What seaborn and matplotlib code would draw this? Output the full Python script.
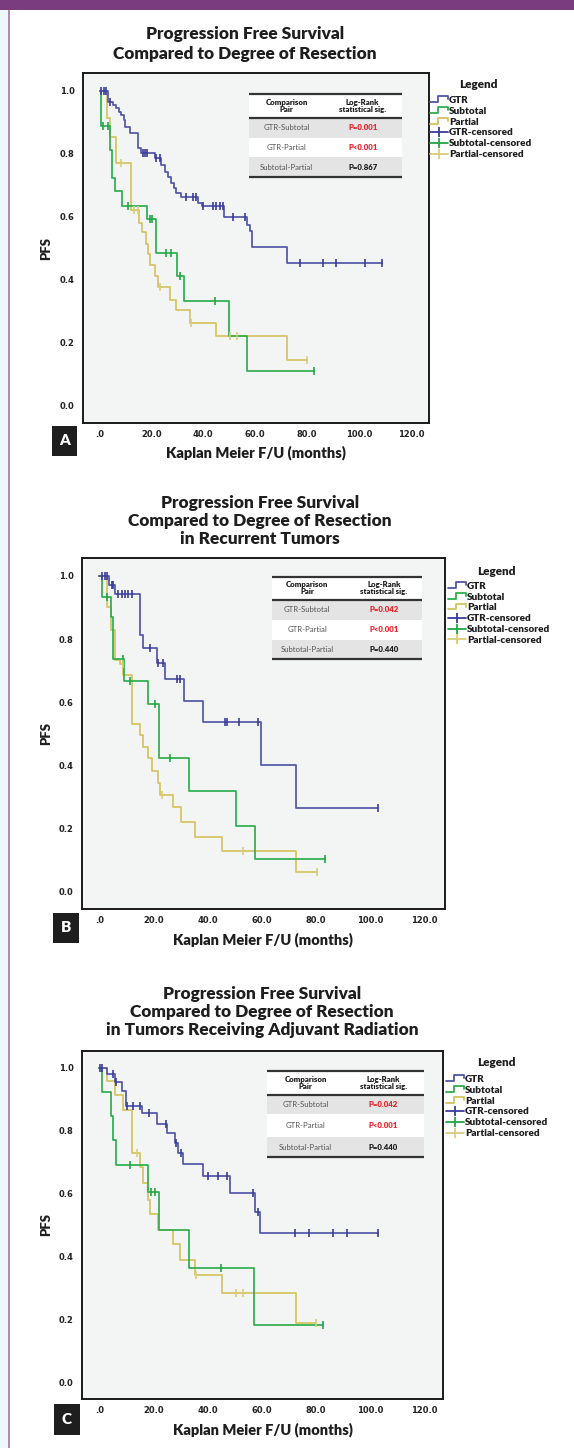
import numpy as np
import matplotlib
matplotlib.use("Agg")
import matplotlib.pyplot as plt
import seaborn as sns
from matplotlib import font_manager
from matplotlib.lines import Line2D
from matplotlib.patches import Rectangle
from matplotlib.legend_handler import HandlerBase

# ---------------- DATA ----------------
titles_A = ["Progression Free Survival", "Compared to Degree of Resection"]
titles_B = ["Progression Free Survival", "Compared to Degree of Resection", "in Recurrent Tumors"]
titles_C = ["Progression Free Survival", "Compared to Degree of Resection",
            "in Tumors Receiving Adjuvant Radiation"]
panel_letters = ["A", "B", "C"]
x_ticks = [0, 20, 40, 60, 80, 100, 120]
x_tick_labels = [".0", "20.0", "40.0", "60.0", "80.0", "100.0", "120.0"]
y_ticks = [0.0, 0.2, 0.4, 0.6, 0.8, 1.0]
y_tick_labels = ["0.0", "0.2", "0.4", "0.6", "0.8", "1.0"]
x_label = "Kaplan Meier F/U (months)"
y_label = "PFS"
series_names = ["GTR", "Subtotal", "Partial"]
legend_labels = ["GTR", "Subtotal", "Partial", "GTR-censored", "Subtotal-censored", "Partial-censored"]
table_header = ["Comparison\nPair", "Log-Rank\nstatistical sig."]
table_pairs = ["GTR-Subtotal", "GTR-Partial", "Subtotal-Partial"]
pvals_A = ["P=0.001", "P<0.001", "P=0.867"]
pvals_B = ["P=0.042", "P<0.001", "P=0.440"]
pvals_C = ["P=0.042", "P<0.001", "P=0.440"]
significant_A = [True, True, False]
significant_B = [True, True, False]
significant_C = [True, True, False]

# Panel A
A_gtr_t = [3.2, 5.1, 6.4, 7.5, 8.4, 9.4, 10.0, 11.6, 14.8, 16.1, 21.2, 23.8, 25.1, 26.4, 27.7,
           28.6, 29.6, 31.5, 38.0, 39.6, 47.9, 56.9, 57.9, 58.9, 72.1]
A_gtr_s = [0.965, 0.955, 0.944, 0.933, 0.923, 0.907, 0.884, 0.865, 0.817, 0.801, 0.785, 0.764,
           0.743, 0.727, 0.706, 0.690, 0.674, 0.662, 0.643, 0.634, 0.600, 0.574, 0.553, 0.505, 0.452]
A_gtr_c = [0.6, 1.9, 2.6, 3.9, 16.7, 17.4, 18.3, 21.9, 23.2, 33.5, 36.0, 37.3, 39.9, 43.8, 45.0,
           46.3, 47.6, 51.5, 56.0, 77.2, 86.2, 91.1, 102.3, 108.8]
A_sub_t = [0.6, 3.9, 4.9, 6.0, 8.6, 18.3, 21.9, 29.9, 32.6, 49.9, 56.9]
A_sub_s = [0.888, 0.812, 0.722, 0.680, 0.634, 0.592, 0.484, 0.412, 0.331, 0.220, 0.109]
A_sub_c = [1.3, 3.2, 10.9, 19.3, 20.3, 25.7, 27.4, 30.9, 44.4, 82.6]
A_par_t = [3.0, 4.1, 6.2, 12.0, 15.4, 16.5, 17.8, 18.7, 19.6, 21.2, 22.5, 27.0, 29.6, 34.7, 44.8, 72.1]
A_par_s = [0.912, 0.854, 0.770, 0.622, 0.580, 0.550, 0.512, 0.480, 0.445, 0.412, 0.375, 0.336,
           0.304, 0.262, 0.220, 0.146]
A_par_c = [8.4, 13.1, 14.8, 23.2, 35.4, 50.2, 52.8, 79.8]

# Panel B
B_gtr_t = [3.7, 5.8, 15.0, 16.0, 21.2, 24.3, 31.3, 38.4, 59.6, 72.6]
B_gtr_s = [0.971, 0.942, 0.813, 0.771, 0.723, 0.673, 0.605, 0.536, 0.401, 0.264]
B_gtr_c = [0.9, 2.1, 2.7, 4.6, 5.2, 7.0, 8.3, 9.5, 10.7, 12.0, 18.7, 21.8, 23.6, 28.6, 29.6,
           46.4, 47.3, 51.7, 58.7, 103.0]
B_sub_t = [0.9, 4.2, 4.9, 9.1, 18.1, 22.2, 33.2, 50.5, 57.5]
B_sub_s = [0.935, 0.869, 0.736, 0.668, 0.594, 0.422, 0.319, 0.209, 0.103]
B_sub_c = [2.7, 8.9, 11.3, 20.6, 26.1, 83.3]
B_par_t = [2.7, 4.2, 5.8, 7.6, 8.9, 12.0, 15.0, 16.0, 18.1, 19.3, 21.8, 22.4, 27.3, 30.0, 35.3, 45.4, 72.6]
B_par_s = [0.903, 0.829, 0.735, 0.722, 0.685, 0.532, 0.496, 0.458, 0.422, 0.382, 0.345, 0.305,
           0.267, 0.220, 0.174, 0.128, 0.063]
B_par_c = [8.6, 23.0, 53.2, 80.3]

# Panel C
C_gtr_t = [2.7, 5.8, 8.3, 9.9, 15.6, 21.2, 24.9, 27.9, 29.2, 31.0, 38.2, 48.3, 57.5, 59.3]
C_gtr_s = [0.980, 0.955, 0.927, 0.878, 0.855, 0.821, 0.791, 0.760, 0.728, 0.693, 0.657, 0.601,
           0.542, 0.474]
C_gtr_c = [0.3, 0.9, 4.9, 6.2, 10.1, 12.6, 15.1, 18.5, 24.6, 28.3, 30.0, 40.3, 43.9, 47.0, 56.6,
           58.7, 72.3, 77.5, 86.4, 91.3, 103.0]
C_sub_t = [0.9, 4.2, 5.2, 6.2, 18.1, 22.1, 33.2, 57.1]
C_sub_s = [0.924, 0.846, 0.770, 0.691, 0.606, 0.484, 0.362, 0.182]
C_sub_c = [11.3, 19.0, 20.6, 44.8, 82.7]
C_par_t = [3.0, 5.8, 8.9, 12.0, 15.0, 16.3, 18.1, 18.7, 21.8, 27.1, 29.8, 35.3, 45.2, 72.6]
C_par_s = [0.959, 0.913, 0.865, 0.728, 0.685, 0.632, 0.579, 0.535, 0.484, 0.440, 0.389, 0.341,
           0.283, 0.190]
C_par_c = [13.8, 35.7, 50.5, 52.9, 80.0]

# ---------------- STYLE ----------------
sns.set_style("white")
names = {f.name for f in font_manager.fontManager.ttflist}
FONT = "DejaVu Sans"
for cand in ["Lato", "Open Sans", "Roboto", "Liberation Sans"]:
    if cand in names:
        FONT = cand
        break
plt.rcParams["font.family"] = [FONT, "DejaVu Sans"]

W, H = 574, 1448
fig = plt.figure(figsize=(W / 100, H / 100), dpi=100)
fig.patch.set_facecolor("white")

line_colors = ["#5156a6", "#2fae4e", "#d5c35f"]
cens_colors = ["#3a3d9c", "#22a645", "#d9cd7a"]
PURPLE = "#7b3c7e"
TXT = "#1e1e1e"


def fig_rect(x0, y0, x1, y1, **kw):
    fig.add_artist(Rectangle((x0 / W, 1 - y1 / H), (x1 - x0) / W, (y1 - y0) / H,
                             transform=fig.transFigure, **kw))


# page decoration
fig_rect(0, 0, 8, H, facecolor="#eef7fa", edgecolor="none", zorder=0)
fig_rect(8, 0, 10, H, facecolor="#b18ab9", edgecolor="none", zorder=0)
fig_rect(0, 0, W, 9.5, facecolor=PURPLE, edgecolor="none", zorder=1)


class StepHandler(HandlerBase):
    def create_artists(self, legend, orig_handle, xdescent, ydescent, width, height, fontsize, trans):
        xs = np.array([0.0, 0.42, 0.42, 1.0, 1.0]) * width - xdescent
        ys = np.array([0.15, 0.15, 0.95, 0.95, 0.55]) * height - ydescent
        ln = Line2D(xs, ys, color=orig_handle.get_color(), lw=orig_handle.get_linewidth())
        ln.set_transform(trans)
        return [ln]


panels = [
    dict(title=titles_A, curves=[(A_gtr_t, A_gtr_s, A_gtr_c), (A_sub_t, A_sub_s, A_sub_c), (A_par_t, A_par_s, A_par_c)],
         pvals=pvals_A, sig=significant_A,
         ax=(82.5, 428.5, 73.3, 423.3), xlim=(-6.55, 126.7), ylim=(-0.0565, 1.0553),
         title_x=245, title_y=[33.5, 54.0],
         table=(249.3, 402.3, 94.0, 117.7, 138.3, 157.3, 177.3, 286.7, 362.7),
         leg=(430, 96.0), leg_title=(478, 85),
         letter=(52, 426, 77, 456), pfs_x=46, xlab_y=452.7),
    dict(title=titles_B, curves=[(B_gtr_t, B_gtr_s, B_gtr_c), (B_sub_t, B_sub_s, B_sub_c), (B_par_t, B_par_s, B_par_c)],
         pvals=pvals_B, sig=significant_B,
         ax=(81.7, 445.0, 558.3, 909.3), xlim=(-6.5, 127.6), ylim=(-0.0557, 1.056),
         title_x=260, title_y=[503.3, 520.7, 539.0],
         table=(272.0, 421.7, 576.7, 600.0, 620.0, 640.0, 658.7, 307.3, 384.0),
         leg=(448, 581.8), leg_title=(496.7, 571.7),
         letter=(53, 913, 79, 943), pfs_x=46, xlab_y=940.0),
    dict(title=titles_C, curves=[(C_gtr_t, C_gtr_s, C_gtr_c), (C_sub_t, C_sub_s, C_sub_c), (C_par_t, C_par_s, C_par_c)],
         pvals=pvals_C, sig=significant_C,
         ax=(81.7, 443.3, 1050.7, 1399.3), xlim=(-6.5, 127.0), ylim=(-0.054, 1.054),
         title_x=262, title_y=[993.5, 1011.5, 1029.5],
         table=(266.7, 424.0, 1070.7, 1095.3, 1114.3, 1137.3, 1157.3, 305.7, 383.3),
         leg=(446, 1075.0), leg_title=(496.7, 1062.3),
         letter=(54, 1404, 80, 1435), pfs_x=46, xlab_y=1430.0),
]

for pi, P in enumerate(panels):
    L, R, T, B = P["ax"]
    ax = fig.add_axes([L / W, 1 - B / H, (R - L) / W, (B - T) / H])
    ax.set_facecolor("#f3f4f4")
    for k, (t, s, c) in enumerate(P["curves"]):
        t = np.asarray(t, float)
        s = np.asarray(s, float)
        c = np.asarray(c, float)
        end = max(t[-1], c.max())
        xs = np.concatenate([[0.0], t, [end]])
        ys = np.concatenate([[1.0], s, [s[-1]]])
        sns.lineplot(x=xs, y=ys, drawstyle="steps-post", estimator=None, sort=False,
                     color=line_colors[k], lw=1.25, ax=ax, zorder=3 - k * 0.1)
        idx = np.searchsorted(t, c, side="right")
        cy = np.where(idx == 0, 1.0, s[np.maximum(idx - 1, 0)])
        sns.scatterplot(x=c, y=cy, marker="|", s=30, color=cens_colors[k], linewidth=1.2,
                        ax=ax, zorder=4)
    ax.set_xlim(*P["xlim"])
    ax.set_ylim(*P["ylim"])
    ax.set_xticks(x_ticks)
    ax.set_xticklabels(x_tick_labels)
    ax.set_yticks(y_ticks)
    ax.set_yticklabels(y_tick_labels)
    ax.tick_params(axis="both", direction="out", length=4.5, width=1.0, color="#222222",
                   pad=1.2, labelsize=6, labelcolor="#222222")
    ax.tick_params(axis="x", length=3.5)
    for lab in ax.get_xticklabels() + ax.get_yticklabels():
        lab.set_fontfamily("DejaVu Sans")
        lab.set_fontweight("bold")
    for sp in ax.spines.values():
        sp.set_visible(True)
        sp.set_color("#1a1a1a")
        sp.set_linewidth(1.4)
    ax.set_xlabel(x_label, fontsize=10.5, fontweight="heavy", color=TXT, family=[FONT, "DejaVu Sans"])
    ax.xaxis.set_label_coords(((L + R) / 2 + 0 - L) / (R - L), -(P["xlab_y"] - B) / (B - T))
    ax.xaxis.label.set_va("center")
    ax.set_ylabel(y_label, fontsize=9.5, fontweight="heavy", color=TXT, family=[FONT, "DejaVu Sans"])
    ax.yaxis.set_label_coords(-(L - P["pfs_x"]) / (R - L), 0.5)
    ax.yaxis.label.set_va("center")

    # titles
    for line, yy in zip(P["title"], P["title_y"]):
        fig.text(P["title_x"] / W, 1 - yy / H, line, ha="center", va="center",
                 fontsize=12.4, fontweight="heavy", color=TXT)

    # panel letter
    lx0, ly0, lx1, ly1 = P["letter"]
    fig_rect(lx0, ly0, lx1, ly1, facecolor="#1e1e1e", edgecolor="none", zorder=5)
    fig.text((lx0 + lx1) / 2 / W, 1 - (ly0 + ly1) / 2 / H, panel_letters[pi], ha="center",
             va="center", color="white", fontsize=11, fontweight="heavy", zorder=6)

    # table
    tl, tr, tt, th, t1, t2, tb, c1, c2 = P["table"]
    tax = fig.add_axes([tl / W, 1 - (tb + 2) / H, (tr - tl) / W, (tb - tt + 4) / H])
    tax.set_xlim(tl, tr)
    tax.set_ylim(tb + 2, tt - 2)
    tax.axis("off")
    tax.add_patch(Rectangle((tl, tt), tr - tl, th - tt, facecolor="white", edgecolor="none"))
    tax.add_patch(Rectangle((tl, th), tr - tl, t1 - th, facecolor="#e4e4e4", edgecolor="none"))
    tax.add_patch(Rectangle((tl, t1), tr - tl, t2 - t1, facecolor="white", edgecolor="none"))
    tax.add_patch(Rectangle((tl, t2), tr - tl, tb - t2, facecolor="#e4e4e4", edgecolor="none"))
    for yy in (tt, th, tb):
        tax.plot([tl, tr], [yy, yy], color="#333333", lw=1.6, solid_capstyle="butt")
    tax.text(c1, (tt + th) / 2, table_header[0], ha="center", va="center", fontsize=5.6,
             fontweight="heavy", color=TXT, linespacing=0.95)
    tax.text(c2, (tt + th) / 2, table_header[1], ha="center", va="center", fontsize=5.6,
             fontweight="heavy", color=TXT, linespacing=0.95)
    rows_y = [(th + t1) / 2, (t1 + t2) / 2, (t2 + tb) / 2]
    for r in range(3):
        tax.text(c1, rows_y[r], table_pairs[r], ha="center", va="center", fontsize=5.6,
                 color="#555555")
        tax.text(c2, rows_y[r], P["pvals"][r], ha="center", va="center", fontsize=5.6,
                 fontweight="heavy", color="#ee2229" if P["sig"][r] else TXT)

    # legend
    step_handles = [Line2D([], [], color=line_colors[k], lw=1.3) for k in range(3)]
    cens_handles = [Line2D([], [], color=cens_colors[k], lw=1.3, marker="|", markersize=7,
                           markeredgewidth=1.3) for k in range(3)]
    hmap = {h: StepHandler() for h in step_handles}
    lx, ly = P["leg"]
    fig.legend(step_handles + cens_handles, legend_labels, loc="upper left",
               bbox_to_anchor=(lx / W, 1 - ly / H), bbox_transform=fig.transFigure,
               frameon=False, handler_map=hmap, handlelength=1.8, handleheight=0.7,
               handletextpad=0.12, labelspacing=0.18, borderpad=0, borderaxespad=0,
               prop=dict(family=[FONT, "DejaVu Sans"], weight="heavy", size=7.2),
               labelcolor=TXT)
    fig.text(P["leg_title"][0] / W, 1 - P["leg_title"][1] / H, "Legend", ha="center",
             va="center", fontsize=8.5, fontweight="heavy", color=TXT)

fig.savefig("out.png", dpi=100, facecolor=fig.get_facecolor())
